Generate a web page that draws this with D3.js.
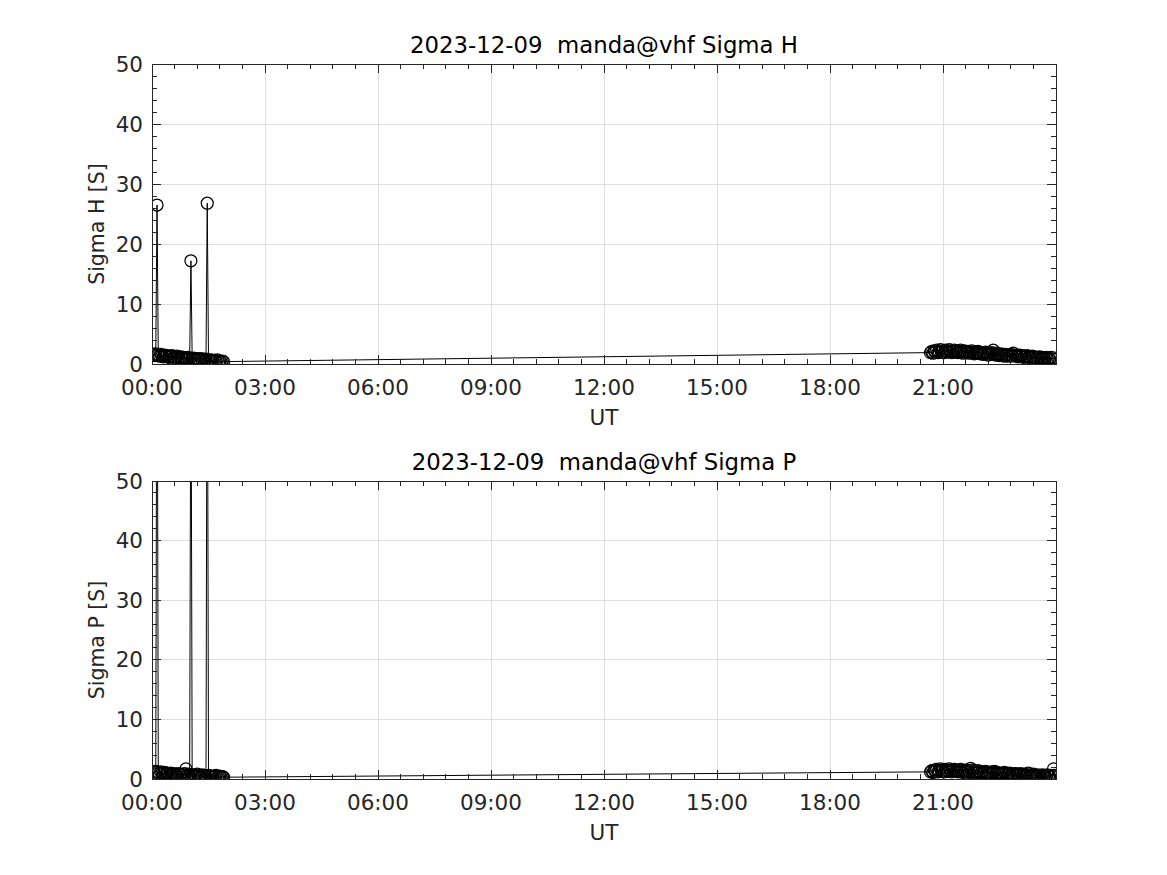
<!DOCTYPE html>
<html><head><meta charset="utf-8">
<script src="https://cdn.jsdelivr.net/npm/d3@7"></script>
<style>
html,body{margin:0;padding:0;background:#fff;}
svg{display:block;font-family:"DejaVu Sans",sans-serif;}
</style></head>
<body>
<svg id="chart" width="1167" height="875"></svg>
<script>
// time of each sample, minutes after 00:00 UT
const timesMin = [2,4,6,8,10,12,14,16,18,20,22,24,26,28,30,32,34,36,38,40,42,44,46,48,50,52,54,56,58,60,
62,64,66,68,70,72,74,76,78,80,82,84,86,88,90,92,94,96,98,100,102,104,106,108,110,112,114,
1240,1242,1244,1246,1248,1250,1252,1254,1256,1258,1260,1262,1264,1266,1268,1270,1272,1274,1276,1278,
1280,1282,1284,1286,1288,1290,1292,1294,1296,1298,1300,1302,1304,1306,1308,1310,1312,1314,1316,1318,
1320,1322,1324,1326,1328,1330,1332,1334,1336,1338,1340,1342,1344,1346,1348,1350,1352,1354,1356,1358,
1360,1362,1364,1366,1368,1370,1372,1374,1376,1378,1380,1382,1384,1386,1388,1390,1392,1394,1396,1398,
1400,1402,1404,1406,1408,1410,1412,1414,1416,1418,1420,1422,1424,1426,1428,1430,1432,1434,1436,1438];

const sigmaH = [1.6,1.4,1.7,26.5,1.5,1.3,1.6,1.4,1.2,1.5,
1.3,1.4,1.1,1.3,1.2,1.4,1.1,1.2,1.0,1.3,
1.1,0.9,1.2,1.0,1.1,0.9,1.0,0.8,1.1,0.9,
17.2,0.8,1.0,0.9,0.7,0.9,0.8,0.6,0.9,0.7,
0.8,0.6,0.8,26.8,0.7,0.5,0.7,0.6,0.4,0.6,
0.5,0.7,0.4,0.5,0.3,0.5,0.4,
1.9,2.1,1.8,2.2,2.0,2.3,1.9,2.1,2.4,2.0,
2.2,1.9,2.3,2.1,2.0,2.4,2.2,1.9,2.1,2.3,
2.0,2.2,1.9,2.1,2.3,2.0,1.8,2.2,2.0,1.9,
2.1,1.8,2.0,2.2,1.9,1.7,2.0,1.8,2.1,1.9,
1.7,1.9,1.6,1.8,2.0,1.7,1.5,1.8,1.6,1.9,
2.3,1.7,1.5,1.8,1.6,1.4,1.7,1.5,1.6,1.3,
1.6,1.4,1.5,1.3,1.6,1.4,1.8,1.5,1.3,1.4,
1.2,1.5,1.3,1.4,1.1,1.3,1.2,1.4,1.1,1.2,
1.0,1.3,1.1,1.2,0.9,1.1,1.0,1.2,0.9,1.1,
1.0,0.8,1.1,0.9,1.0,0.8,1.1,0.9,1.0,0.9];

const sigmaP = [1.2,1.0,1.3,95,1.1,0.9,1.2,1.0,0.9,1.1,
0.8,1.0,0.9,0.7,1.0,0.8,0.9,0.7,0.8,0.6,
0.9,0.7,0.8,0.6,0.7,0.9,1.7,0.6,0.8,0.6,
80,0.7,0.5,0.7,0.6,0.8,0.5,0.6,0.4,0.7,
0.5,0.6,0.4,90,0.6,0.4,0.5,0.3,0.5,0.4,
0.6,0.3,0.4,0.5,0.3,0.4,0.3,
1.2,1.4,1.1,1.5,1.3,1.6,1.2,1.4,1.7,1.3,
1.5,1.2,1.6,1.4,1.3,1.7,1.5,1.2,1.4,1.6,
1.3,1.5,1.2,1.4,1.6,1.3,1.1,1.5,1.3,1.2,
1.4,1.1,1.8,1.5,1.2,1.0,1.3,1.1,1.4,1.2,
1.0,1.2,0.9,1.1,1.3,1.0,0.8,1.1,0.9,1.2,
1.0,1.3,0.8,1.1,0.9,0.7,1.0,0.8,0.9,1.1,
0.9,0.7,0.8,1.0,0.7,0.9,0.8,0.6,0.9,0.7,
0.8,0.6,0.9,0.7,0.5,0.8,0.6,0.7,1.0,0.6,
0.7,0.5,0.8,0.6,0.4,0.7,0.5,0.6,0.4,0.7,
0.5,0.6,0.4,0.7,0.5,0.4,0.6,0.5,1.7,0.6];

const xTickHours = [0,3,6,9,12,15,18,21];
const xTickLabels = ["00:00","03:00","06:00","09:00","12:00","15:00","18:00","21:00"];
const yTicks = [0,10,20,30,40,50];
const panelTitles = ["2023-12-09  manda@vhf Sigma H","2023-12-09  manda@vhf Sigma P"];
const yLabels = ["Sigma H [S]","Sigma P [S]"];
const xLabel = "UT";

const svg = d3.select("#chart");
const axColor = "#262626";
const gridColor = "#dfdfdf";
const L = 152, R = 1056;
const panels = [
  {top:64, bottom:364, values:sigmaH},
  {top:481, bottom:779, values:sigmaP}
];

const x = d3.scaleLinear().domain([0, 24*60]).range([L, R]);
const minorX = d3.range(0, 24*60+1, 36);
const minorY = d3.range(0, 51, 2);

panels.forEach((p, i) => {
  const y = d3.scaleLinear().domain([0, 50]).range([p.bottom, p.top]);
  const g = svg.append("g");
  const clipId = "clip"+i;
  svg.append("clipPath").attr("id", clipId).append("rect")
    .attr("x", L).attr("y", p.top).attr("width", R-L).attr("height", p.bottom-p.top);

  // grid
  g.selectAll(".gx").data(xTickHours).join("line")
    .attr("x1", d=>x(d*60)).attr("x2", d=>x(d*60)).attr("y1", p.top).attr("y2", p.bottom)
    .attr("stroke", gridColor).attr("stroke-width", 1).attr("shape-rendering","crispEdges");
  g.selectAll(".gy").data(yTicks).join("line")
    .attr("x1", L).attr("x2", R).attr("y1", d=>y(d)).attr("y2", d=>y(d))
    .attr("stroke", gridColor).attr("stroke-width", 1).attr("shape-rendering","crispEdges");

  // data
  const pts = timesMin.map((t, k) => [t, p.values[k]]);
  const dg = g.append("g").attr("clip-path", `url(#${clipId})`);
  dg.append("path")
    .attr("d", d3.line().x(d=>x(d[0])).y(d=>y(d[1]))(pts))
    .attr("fill","none").attr("stroke","#000").attr("stroke-width",1);
  dg.selectAll("circle").data(pts).join("circle")
    .attr("cx", d=>x(d[0])).attr("cy", d=>y(d[1])).attr("r", 6)
    .attr("fill","none").attr("stroke","#000").attr("stroke-width",1.25);

  // ticks (inward, all four sides)
  const tk = g.append("g").attr("stroke", axColor).attr("stroke-width",1).attr("shape-rendering","crispEdges");
  const majX = xTickHours.map(h=>h*60).concat([24*60]);
  minorX.forEach(m => {
    const len = majX.includes(m) ? 9 : 5;
    tk.append("line").attr("x1",x(m)).attr("x2",x(m)).attr("y1",p.bottom).attr("y2",p.bottom-len);
    tk.append("line").attr("x1",x(m)).attr("x2",x(m)).attr("y1",p.top).attr("y2",p.top+len);
  });
  minorY.forEach(v => {
    const len = yTicks.includes(v) ? 9 : 5;
    tk.append("line").attr("x1",L).attr("x2",L+len).attr("y1",y(v)).attr("y2",y(v));
    tk.append("line").attr("x1",R).attr("x2",R-len).attr("y1",y(v)).attr("y2",y(v));
  });
  g.append("rect").attr("x",L).attr("y",p.top).attr("width",R-L).attr("height",p.bottom-p.top)
    .attr("fill","none").attr("stroke",axColor).attr("stroke-width",1).attr("shape-rendering","crispEdges");

  // tick labels
  g.selectAll(".xl").data(xTickHours).join("text")
    .attr("x", d=>x(d*60)).attr("y", p.bottom+23).attr("text-anchor","middle")
    .attr("dominant-baseline","central").attr("font-size",21.5).attr("fill",axColor)
    .text((d,k)=>xTickLabels[k]);
  g.selectAll(".yl").data(yTicks).join("text")
    .attr("x", L-9).attr("y", d=>y(d)).attr("text-anchor","end")
    .attr("dominant-baseline","central").attr("font-size",21.5).attr("fill",axColor)
    .text(d=>d);

  // labels
  g.append("text").attr("x",(L+R)/2).attr("y",p.top-19).attr("text-anchor","middle")
    .attr("dominant-baseline","central").attr("font-size",22.8).attr("fill","#000")
    .style("white-space","pre").text(panelTitles[i]);
  g.append("text").attr("x",(L+R)/2).attr("y",p.bottom+53).attr("text-anchor","middle")
    .attr("dominant-baseline","central").attr("font-size",21.5).attr("fill",axColor).text(xLabel);
  g.append("text").attr("transform",`translate(97,${(p.top+p.bottom)/2 + 10}) rotate(-90)`)
    .attr("text-anchor","middle").attr("dominant-baseline","central")
    .attr("font-size",20.5).attr("fill",axColor).text(yLabels[i]);
});
</script>
</body></html>
